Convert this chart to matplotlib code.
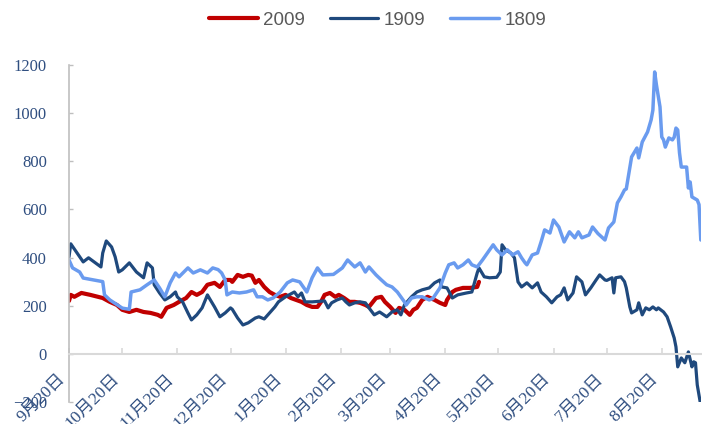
import numpy as np
import pandas as pd
import matplotlib
matplotlib.use("Agg")
import matplotlib.pyplot as plt

# days counted from 9月20日
days_2009 = [0, 1, 3, 7, 12, 19, 23, 27, 30, 34, 38, 42, 46, 50, 52, 55, 59, 62, 66, 69,
             72, 75, 78, 82, 85, 88, 91, 92, 95, 98, 101, 103, 105, 107, 110, 113, 116,
             119, 122, 125, 128, 131, 134, 137, 140, 142, 144, 147, 150, 152, 155, 158,
             161, 164, 167, 169, 173, 176, 178, 181, 184, 186, 189, 192, 194, 196, 199,
             202, 206, 209, 212, 213, 216, 218, 222, 226, 230, 231]
vals_2009 = [220, 245, 237, 253, 245, 232, 216, 203, 183, 174, 183, 174, 170, 162, 154, 191,
             203, 216, 232, 257, 245, 257, 287, 295, 278, 307, 307, 299, 328, 320, 328, 325,
             295, 307, 278, 257, 245, 237, 245, 232, 224, 216, 203, 195, 195, 216, 245, 253,
             237, 245, 232, 216, 216, 212, 203, 195, 232, 237, 216, 195, 170, 191, 183, 162,
             183, 191, 224, 237, 224, 212, 203, 224, 257, 266, 274, 274, 278, 299]

days_1909 = [0, 1, 6, 8, 11, 18, 19, 21, 24, 26, 28, 30, 34, 38, 42, 44, 47, 48, 51, 54,
             57, 60, 61, 64, 67, 69, 72, 75, 78, 79, 82, 85, 88, 91, 92, 95, 98, 101, 105,
             107, 110, 113, 116, 118, 122, 124, 127, 129, 131, 133, 137, 144, 146, 148, 151,
             154, 156, 158, 161, 164, 167, 169, 172, 175, 179, 182, 185, 187, 189, 193, 196,
             199, 203, 206, 209, 210, 213, 216, 219, 224, 227, 230, 231, 234, 237, 241, 243,
             244, 246, 249, 251, 252, 253, 255, 258, 261, 264, 266, 269, 272, 275, 277, 279,
             281, 284, 286, 289, 291, 294, 297, 299, 302, 303, 306, 307, 308, 311, 313, 314,
             316, 317, 320, 321, 323, 325, 327, 329, 331, 332, 335, 337, 339, 341, 342, 343,
             345, 347, 349, 351, 352, 353, 354, 356]
vals_1909 = [403, 457, 403, 382, 399, 361, 419, 469, 444, 403, 340, 349, 378, 340, 316, 378,
             357, 287, 253, 224, 237, 257, 237, 216, 170, 141, 162, 191, 245, 232, 195, 154,
             170, 191, 185, 149, 120, 129, 149, 154, 145, 170, 195, 216, 237, 245, 257, 237,
             253, 216, 216, 220, 191, 212, 224, 232, 216, 203, 212, 216, 212, 191, 162, 174,
             154, 174, 183, 162, 203, 237, 257, 266, 274, 295, 307, 278, 274, 232, 245, 253,
             257, 336, 357, 320, 316, 318, 340, 453, 432, 419, 399, 349, 299, 278, 295, 274,
             295, 257, 237, 212, 237, 245, 274, 224, 253, 320, 299, 245, 274, 307, 328, 307,
             305, 316, 253, 316, 320, 300, 274, 195, 170, 183, 212, 162, 191, 183, 195, 183,
             191, 174, 154, 112, 66, 29, -54, -17, -37, 8, -54, -33, -37, -129, -215]

days_1809 = [0, 2, 6, 8, 19, 20, 23, 30, 34, 35, 40, 44, 48, 51, 54, 57, 60, 62, 67, 70,
             74, 78, 81, 84, 86, 88, 89, 92, 96, 100, 104, 106, 109, 112, 115, 119, 123, 126,
             130, 134, 137, 140, 143, 149, 154, 157, 161, 164, 167, 169, 173, 176, 179, 182,
             185, 189, 190, 193, 196, 199, 203, 205, 209, 212, 214, 217, 219, 222, 225, 227,
             230, 233, 235, 239, 241, 244, 247, 250, 253, 255, 257, 258, 261, 264, 266, 268,
             271, 273, 276, 279, 282, 285, 287, 289, 293, 295, 298, 302, 304, 307, 309, 311,
             313, 314, 317, 320, 321, 323, 326, 328, 329, 330, 331, 333, 334, 335, 336, 338,
             340, 341, 342, 343, 344, 345, 348, 349, 350, 351, 354, 355, 356]
vals_1809 = [390, 357, 340, 315, 300, 245, 224, 190, 185, 257, 266, 287, 307, 274, 237, 295,
             336, 320, 357, 336, 349, 336, 357, 350, 336, 307, 245, 257, 253, 257, 266, 237,
             237, 224, 232, 257, 295, 307, 299, 257, 316, 357, 328, 330, 357, 390, 361, 378,
             340, 361, 328, 307, 287, 278, 257, 216, 203, 232, 237, 237, 224, 230, 274, 336,
             370, 378, 357, 370, 390, 370, 361, 390, 411, 453, 432, 411, 432, 411, 424, 399,
             378, 370, 411, 419, 465, 515, 502, 556, 527, 465, 507, 482, 507, 482, 494, 527,
             500, 473, 523, 548, 627, 652, 681, 685, 818, 855, 814, 880, 922, 972, 1013, 1171,
             1117, 1026, 901, 889, 859, 897, 889, 900, 938, 930, 835, 776, 776, 689, 714, 652,
             639, 620, 473]

series = ["2009", "1909", "1809"]
colors = ["#C00000", "#1F497D", "#6A9BEF"]
widths = [3.0, 2.3, 2.5]

base = pd.Timestamp("2018-09-20")
tick_dates = pd.to_datetime(["2018-09-20", "2018-10-20", "2018-11-20", "2018-12-20",
                             "2019-01-20", "2019-02-20", "2019-03-20", "2019-04-20",
                             "2019-05-20", "2019-06-20", "2019-07-20", "2019-08-20"])
tick_pos = [(d - base).days for d in tick_dates]
tick_labels = [f"{d.month}月{d.day}日" for d in tick_dates]

fig = plt.figure(figsize=(7.02, 4.24), dpi=100)
ax = fig.add_axes([0.0983, 0.0519, 0.900, 0.7948])

data = [(days_2009, vals_2009), (days_1909, vals_1909), (days_1809, vals_1809)]
for (d, v), name, c, w in zip(data, series, colors, widths):
    ax.plot(d, v, color=c, lw=w, label=name, solid_joinstyle="round", solid_capstyle="round")

ax.set_xlim(0, 356)
ax.set_ylim(-200, 1200)
ax.set_yticks(np.arange(-200, 1201, 200))

for s in ["top", "right"]:
    ax.spines[s].set_visible(False)
ax.spines["bottom"].set_position(("data", 0))
ax.spines["bottom"].set_color("#D9D9D9")
ax.spines["bottom"].set_linewidth(1.5)
ax.spines["left"].set_color("#BFBFBF")
ax.spines["left"].set_linewidth(1.2)

ax.set_xticks(tick_pos)
ax.set_xticklabels(tick_labels, rotation=45, ha="right", va="top",
                   family=["Liberation Serif", "Noto Sans CJK SC"], fontsize=12.5, color="#2F4E80")
ax.tick_params(axis="x", direction="in", length=4, color="#D9D9D9", width=1.2, pad=12)
ax.tick_params(axis="y", direction="in", length=3, color="#BFBFBF", width=1.0, pad=16,
               labelcolor="#2F4E80")
for lab in ax.get_yticklabels():
    lab.set_family("Liberation Serif")
    lab.set_fontsize(12)

fig.legend(loc="center", bbox_to_anchor=(0.538, 0.952), ncol=3, frameon=False,
           prop={"family": "Liberation Sans", "size": 13.5}, labelcolor="#595959",
           handlelength=2.6, handletextpad=0.3, columnspacing=1.3)

fig.savefig("out.png", dpi=100)
